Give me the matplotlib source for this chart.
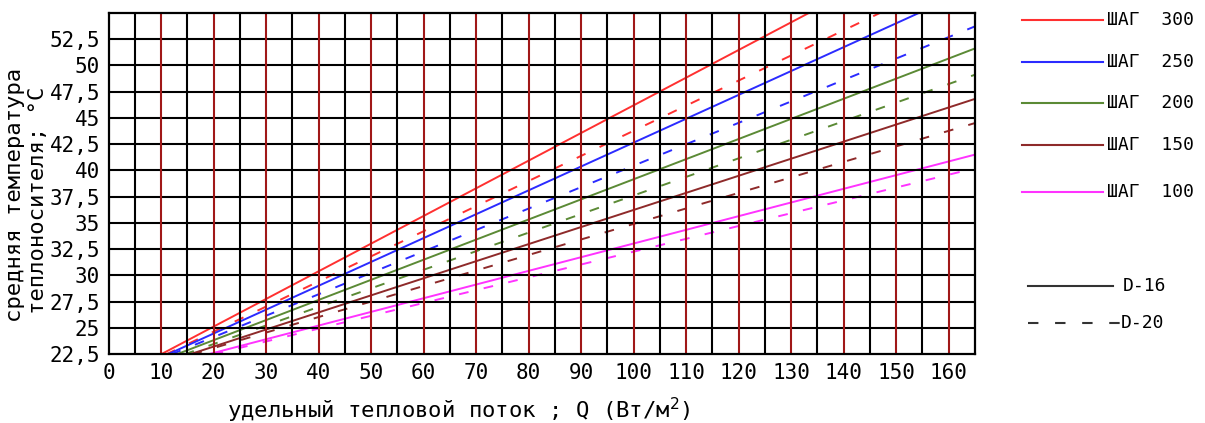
import numpy as np
import matplotlib
matplotlib.use('Agg')
import matplotlib.pyplot as plt
from matplotlib.lines import Line2D

plt.rcParams['font.family'] = ['DejaVu Sans Mono', 'DejaVu Sans']

# шаг укладки и цвета серий
steps = ['300', '250', '200', '150', '100']
colors = ['#ff3030', '#2b2bff', '#5b8a35', '#8e2a2a', '#ff33ff']

# прямые: q, где линия выходит из 22,5 °C, и температура при q = 165
q_start_16 = [10.0, 11.3, 13.0, 15.5, 19.0]
t_end_16 = [63.3, 57.4, 51.6, 46.8, 41.5]
q_start_20 = [11.0, 12.0, 14.5, 16.0, 20.0]
t_end_20 = [59.3, 53.7, 49.1, 44.5, 40.2]

x_ticks = list(range(0, 161, 10))
y_ticks = [22.5, 25, 27.5, 30, 32.5, 35, 37.5, 40, 42.5, 45, 47.5, 50, 52.5]

W, H = 1205, 423
fig = plt.figure(figsize=(W / 100, H / 100), dpi=100)
ax = fig.add_axes([108.5 / W, 1 - 354.3 / H, (975 - 108.5) / W, (354.3 - 12.7) / H])
ax.set_xlim(0, 165)
ax.set_ylim(22.5, 55)

# сетка
for y in y_ticks[1:]:
    ax.axhline(y, color='black', lw=1.5, zorder=3)
for x in range(5, 165, 10):
    ax.axvline(x, color='black', lw=1.5, zorder=3)
for x in x_ticks[1:]:
    ax.axvline(x, color='#a01818', lw=1.5, zorder=3)

dash = (0, (5, 8))
for i in range(len(steps)):
    ax.plot([q_start_16[i], 165], [22.5, t_end_16[i]], color=colors[i], lw=1.4, zorder=2)
    ax.plot([q_start_20[i], 165], [22.5, t_end_20[i]], color=colors[i], lw=1.4,
            linestyle=dash, zorder=2)

for s in ax.spines.values():
    s.set_linewidth(1.6)
    s.set_zorder(4)

ax.set_xticks(x_ticks)
ax.set_xticklabels([str(v) for v in x_ticks])
ax.set_yticks(y_ticks)
ax.set_yticklabels([('%g' % v).replace('.', ',') for v in y_ticks])
ax.tick_params(length=0, labelsize=15, pad=6)

fig.text(459 / W, 1 - 410 / H, 'удельный тепловой поток ; Q (Вт/м$^2$)',
         ha='center', va='center', fontsize=16)
fig.text(15 / W, 1 - 195 / H, 'средняя температура', rotation=90,
         ha='center', va='center', fontsize=16)
fig.text(38 / W, 1 - 200 / H, 'теплоносителя; °C', rotation=90,
         ha='center', va='center', fontsize=16)

# легенда
leg_y = [20, 62, 103, 145, 192]
for i in range(len(steps)):
    fy = 1 - leg_y[i] / H
    fig.add_artist(Line2D([1022 / W, 1103 / W], [fy, fy], color=colors[i], lw=1.5))
    fig.text(1107 / W, fy, 'ШАГ  ' + steps[i], ha='left', va='center', fontsize=13)

fy = 1 - 286 / H
fig.add_artist(Line2D([1028 / W, 1113 / W], [fy, fy], color='#333333', lw=1.5))
fig.text(1123 / W, fy, 'D-16', ha='left', va='center', fontsize=13)
fy = 1 - 323 / H
fig.add_artist(Line2D([1028 / W, 1120 / W], [fy, fy], color='#333333', lw=1.5,
                      linestyle=(0, (5, 8))))
fig.text(1121 / W, fy, 'D-20', ha='left', va='center', fontsize=13)

fig.savefig('out.png', dpi=100)
